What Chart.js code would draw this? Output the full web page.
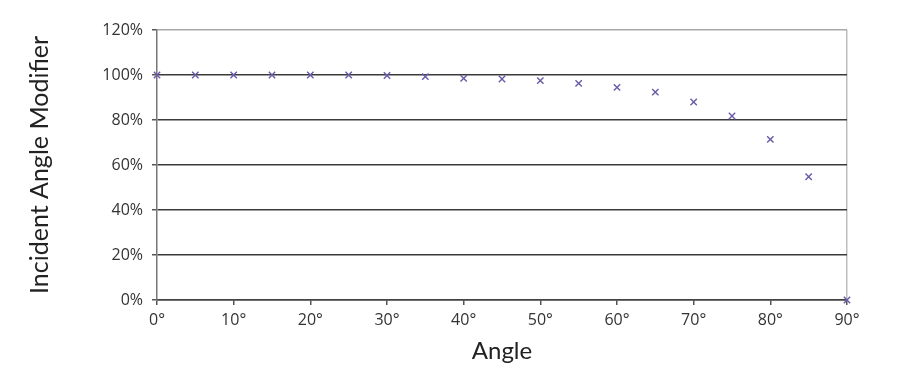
<!DOCTYPE html>
<html>
<head>
<meta charset="utf-8">
<script src="https://cdn.jsdelivr.net/npm/chart.js@4"></script>
<style>
  html, body { margin: 0; padding: 0; background: #fff; }
  #wrap { width: 924px; height: 378px; }
</style>
</head>
<body>
<div id="wrap"><canvas id="iamChart" width="924" height="378"></canvas></div>
<script>
// Incident angle (degrees) and measured modifier (%)
const angles = [0, 5, 10, 15, 20, 25, 30, 35, 40, 45, 50, 55, 60, 65, 70, 75, 80, 85, 90];
const modifier = [100, 100, 100, 100, 100, 100, 99.8, 99.3, 98.5, 98.2, 97.5, 96.3, 94.5, 92.4, 88, 81.8, 71.4, 54.8, 0];

const xTickStep = 10;
const yTickStep = 20;

const points = angles.map((a, i) => ({ x: a, y: modifier[i] }));

const ctx = document.getElementById("iamChart").getContext("2d");

new Chart(ctx, {
    type: "scatter",
    data: {
        datasets: [{
            label: "IAM",
            data: points,
            pointStyle: "crossRot",
            pointRadius: 4.5,
            pointHoverRadius: 4.5,
            borderColor: "#6a5aa8",
            backgroundColor: "#6a5aa8",
            borderWidth: 1.4,
            clip: false
        }]
    },
    options: {
        responsive: false,
        animation: false,
        layout: {
            padding: { left: 0, right: 77, top: 30, bottom: 0 }
        },
        plugins: {
            legend: { display: false },
            tooltip: { enabled: false }
        },
        scales: {
            x: {
                type: "linear",
                min: 0,
                max: 90,
                afterFit: scale => { scale.height = 78; },
                ticks: {
                    stepSize: xTickStep,
                    color: "#333",
                    padding: 6,
                    font: { family: "Open Sans", size: 16 },
                    callback: v => v + "°"
                },
                grid: {
                    color: c => (c.tick && c.tick.value === 90) ? "#bdbdbd" : "rgba(0,0,0,0)",
                    tickColor: "#555",
                    tickLength: 5,
                    lineWidth: 1.5
                },
                border: { color: "#444", width: 1.5 },
                title: {
                    display: true,
                    text: "Angle",
                    color: "#222",
                    font: { family: "Lato", size: 24 },
                    padding: { top: 0, bottom: 12 }
                }
            },
            y: {
                min: 0,
                max: 120,
                afterFit: scale => { scale.width = 157; },
                ticks: {
                    stepSize: yTickStep,
                    color: "#333",
                    padding: 9,
                    font: { family: "Open Sans", size: 16 },
                    callback: v => v + "%"
                },
                grid: {
                    color: c => (c.tick && c.tick.value === 120) ? "#a8a8a8" : "#3a3a3a",
                    tickColor: "#555",
                    tickLength: 5,
                    lineWidth: 1.5
                },
                border: { color: "#777", width: 1.5 },
                title: {
                    display: true,
                    text: "Incident Angle Modifier",
                    color: "#222",
                    font: { family: "Lato", size: 25 },
                    padding: { top: 25, bottom: 0 }
                }
            }
        }
    }
});
</script>
</body>
</html>
